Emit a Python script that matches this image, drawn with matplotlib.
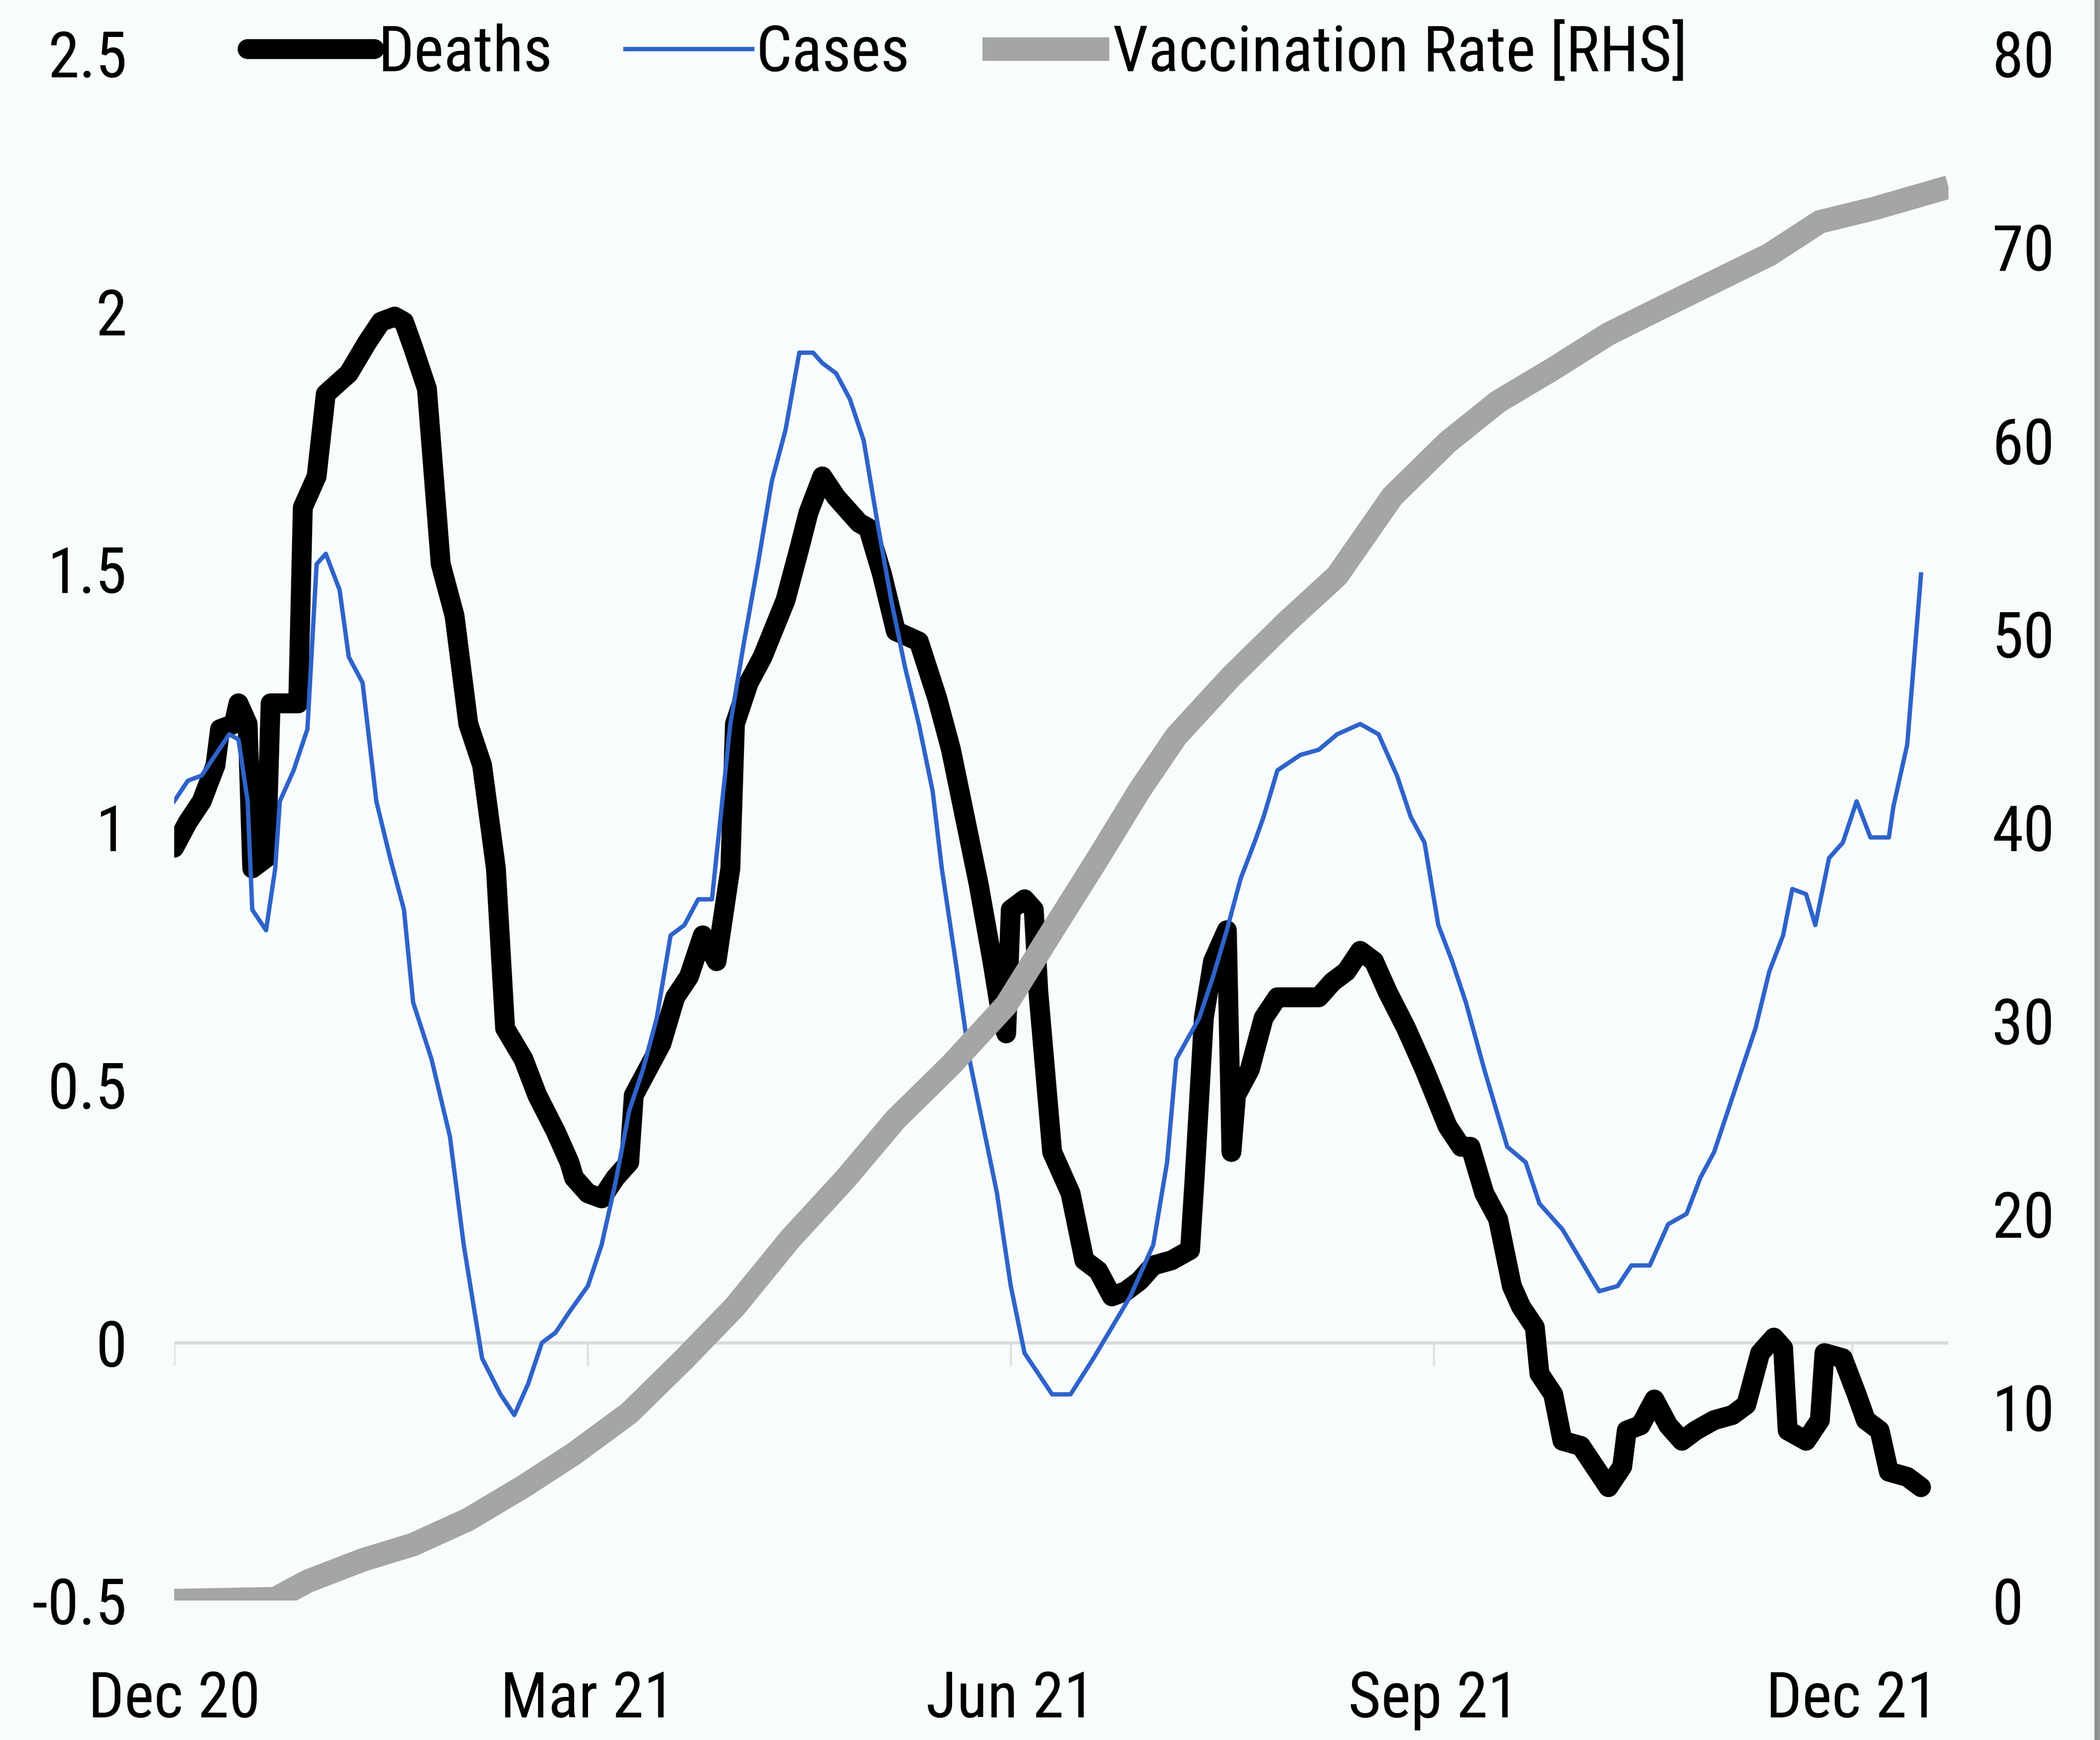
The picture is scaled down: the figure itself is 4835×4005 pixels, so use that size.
import numpy as np
import matplotlib
matplotlib.use("Agg")
import matplotlib.pyplot as plt
from matplotlib.lines import Line2D

plt.rcParams['font.family'] = ['Liberation Sans Narrow', 'DejaVu Sans Condensed', 'Roboto Condensed',
                               'Open Sans Condensed', 'Liberation Sans', 'DejaVu Sans']
plt.rcParams['font.stretch'] = 'condensed'

# days counted from 1 Dec 2020
start = np.datetime64('2020-12-01')

deaths_day = [0, 3, 6, 9, 10, 13, 14, 16, 17, 20, 21, 25, 27, 28, 31, 33, 38, 42, 45, 48, 50, 52,
              55, 58, 61, 64, 67, 70, 72, 76, 79, 83, 86, 87, 90, 93, 96, 99, 100, 103, 106, 109,
              112, 115, 118, 121, 122, 125, 128, 133, 136, 138, 141, 144, 149, 151, 154, 157, 162,
              166, 169, 172, 175, 178, 180, 181, 182, 185, 187, 188, 191, 195, 198, 201, 204, 207,
              210, 213, 217, 221, 222, 224, 226, 229, 230, 231, 234, 237, 240, 245, 249, 252, 255,
              258, 261, 264, 268, 272, 277, 280, 282, 283, 285, 288, 291, 293, 296, 297, 300, 302,
              306, 309, 312, 315, 316, 319, 322, 325, 328, 331, 335, 339, 342, 345, 348, 350, 351,
              355, 358, 359, 363, 366, 368, 371, 373, 377, 380]
deaths_val = [0.96, 1.01, 1.05, 1.12, 1.19, 1.20, 1.24, 1.20, 0.92, 0.94, 1.24, 1.24, 1.24, 1.62,
              1.68, 1.84, 1.88, 1.94, 1.98, 1.99, 1.98, 1.93, 1.85, 1.51, 1.41, 1.20, 1.12, 0.92,
              0.61, 0.55, 0.48, 0.41, 0.35, 0.32, 0.29, 0.28, 0.32, 0.35, 0.48, 0.53, 0.58, 0.67,
              0.71, 0.79, 0.74, 0.92, 1.20, 1.28, 1.33, 1.44, 1.54, 1.61, 1.68, 1.64, 1.59, 1.58,
              1.49, 1.38, 1.36, 1.25, 1.15, 1.02, 0.89, 0.74, 0.63, 0.60, 0.84, 0.86, 0.84, 0.68,
              0.37, 0.29, 0.16, 0.14, 0.09, 0.10, 0.12, 0.15, 0.16, 0.18, 0.32, 0.63, 0.74, 0.80,
              0.37, 0.48, 0.53, 0.63, 0.67, 0.67, 0.67, 0.70, 0.72, 0.76, 0.74, 0.68, 0.61, 0.53,
              0.42, 0.38, 0.38, 0.35, 0.29, 0.24, 0.11, 0.07, 0.03, -0.06, -0.10, -0.19, -0.20,
              -0.24, -0.28, -0.24, -0.17, -0.16, -0.11, -0.16, -0.19, -0.17, -0.15, -0.14, -0.12,
              -0.02, 0.01, -0.01, -0.17, -0.19, -0.15, -0.02, -0.03, -0.10, -0.15, -0.17, -0.25,
              -0.26, -0.28]

cases_day = [0, 3, 6, 9, 12, 14, 16, 17, 20, 22, 23, 26, 29, 31, 33, 36, 38, 41, 44, 47, 50, 52,
             56, 60, 63, 67, 71, 74, 77, 80, 83, 86, 90, 93, 96, 99, 102, 105, 108, 111, 114, 117,
             121, 124, 127, 130, 133, 136, 139, 141, 144, 147, 150, 153, 156, 159, 162, 165, 167,
             170, 173, 176, 179, 182, 185, 188, 191, 195, 200, 204, 208, 213, 216, 218, 223, 226,
             229, 232, 235, 237, 240, 245, 249, 253, 258, 262, 266, 269, 272, 275, 278, 281, 285,
             290, 294, 297, 302, 306, 310, 314, 317, 321, 325, 329, 332, 335, 338, 341, 344, 347,
             350, 352, 355, 357, 360, 363, 366, 369, 373, 374, 377, 380]
cases_val = [1.05, 1.09, 1.10, 1.14, 1.18, 1.17, 1.05, 0.84, 0.80, 0.92, 1.05, 1.11, 1.19, 1.51,
             1.53, 1.46, 1.33, 1.28, 1.05, 0.94, 0.84, 0.66, 0.55, 0.40, 0.19, -0.03, -0.10, -0.14,
             -0.08, 0.00, 0.02, 0.06, 0.11, 0.19, 0.31, 0.45, 0.53, 0.63, 0.79, 0.81, 0.86, 0.86,
             1.20, 1.36, 1.51, 1.67, 1.77, 1.92, 1.92, 1.90, 1.88, 1.83, 1.75, 1.59, 1.44, 1.31,
             1.20, 1.07, 0.92, 0.74, 0.55, 0.42, 0.29, 0.11, -0.02, -0.06, -0.10, -0.10, -0.03,
             0.03, 0.09, 0.19, 0.35, 0.55, 0.63, 0.71, 0.80, 0.90, 0.97, 1.02, 1.11, 1.14, 1.15,
             1.18, 1.20, 1.18, 1.10, 1.02, 0.97, 0.81, 0.74, 0.66, 0.53, 0.38, 0.35, 0.27, 0.22,
             0.16, 0.10, 0.11, 0.15, 0.15, 0.23, 0.25, 0.32, 0.37, 0.45, 0.53, 0.61, 0.72, 0.79,
             0.88, 0.87, 0.81, 0.94, 0.97, 1.05, 0.98, 0.98, 1.04, 1.16, 1.49]

vacc_day = [0, 22, 29, 41, 52, 64, 76, 87, 99, 111, 122, 134, 146, 157, 169, 181, 192, 201, 210,
            218, 230, 242, 253, 265, 277, 288, 300, 312, 323, 335, 347, 358, 370, 386]
vacc_val = [0.0, 0.1, 1.0, 2.1, 2.9, 4.2, 5.9, 7.6, 9.7, 12.5, 15.2, 18.7, 21.8, 24.9, 27.7, 30.8,
            35.0, 38.4, 41.9, 44.7, 47.8, 50.6, 53.0, 57.1, 59.9, 62.0, 63.7, 65.5, 66.8, 68.2,
            69.6, 71.3, 72.0, 73.1]

tick_dates = ['2020-12-01', '2021-03-01', '2021-06-01', '2021-09-01', '2021-12-01']
tick_labels = ['Dec 20', 'Mar 21', 'Jun 21', 'Sep 21', 'Dec 21']
left_ticks = [-0.5, 0, 0.5, 1, 1.5, 2, 2.5]
left_labels = ['-0.5', '0', '0.5', '1', '1.5', '2', '2.5']
right_ticks = [0, 10, 20, 30, 40, 50, 60, 70, 80]

bg = '#f8fcfd'
fs = 35

fig = plt.figure(figsize=(4835 / 300, 4005 / 300), dpi=300, facecolor=bg)
ax = fig.add_axes([0.0829, 0.0801, 0.845, 0.8891])
ax.set_facecolor(bg)
ax2 = ax.twinx()

d = lambda days: start + np.array(days).astype('timedelta64[D]')
ticks = np.array(tick_dates, dtype='datetime64[D]')

ax.axhline(0, color='#dadada', lw=1.8, zorder=1)
ax.vlines(ticks, -0.045, 0, color='#e0e0e0', lw=1.2, zorder=1)

ax.plot(d(deaths_day), deaths_val, color='black', lw=11, solid_joinstyle='round',
        solid_capstyle='round', label='Deaths', zorder=3)
ax.plot(d(cases_day), cases_val, color='#2e63c9', lw=2.4, label='Cases', zorder=4)
ax2.plot(d(vacc_day), vacc_val, color='#a5a5a5', lw=13, solid_capstyle='butt',
         solid_joinstyle='round', label='Vaccination Rate [RHS]')

ax.set_xlim(start, start + np.timedelta64(386, 'D'))
ax.set_ylim(-0.5, 2.5)
ax2.set_ylim(0, 80)

ax.set_xticks(ticks, tick_labels)
ax.set_yticks(left_ticks, left_labels)
ax2.set_yticks(right_ticks, [str(t) for t in right_ticks])

ax.tick_params(axis='x', length=0, pad=38, labelsize=fs)
ax.tick_params(axis='y', length=0, pad=26, labelsize=fs)
ax2.tick_params(axis='y', length=0, pad=24, labelsize=fs)
for a in (ax, ax2):
    for s in a.spines.values():
        s.set_visible(False)

h1, l1 = ax.get_legend_handles_labels()
h2, l2 = ax2.get_legend_handles_labels()
ax2.legend(h1 + h2, l1 + l2, ncol=3, loc='center left', bbox_to_anchor=(0.0415, 1.0),
           frameon=False, fontsize=fs, handlelength=2.0, handletextpad=0.06,
           columnspacing=1.15, borderpad=0, borderaxespad=0)

fig.add_artist(Line2D([0.9985, 0.9985], [0, 1], color='#8e9390', lw=3, transform=fig.transFigure))

fig.savefig('out.png', dpi=300, facecolor=bg)
